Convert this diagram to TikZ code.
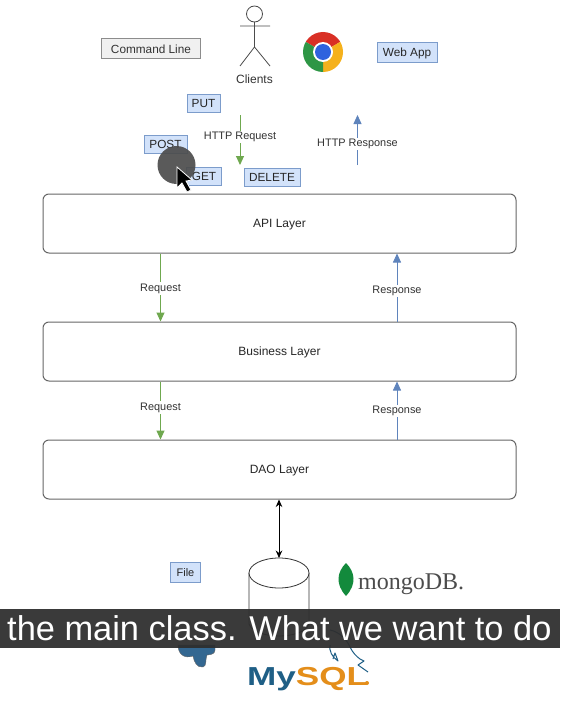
\documentclass[tikz,border=0pt]{standalone}
\usepackage{fontspec}
\setmainfont{Liberation Sans}
\newfontfamily\serifface{Liberation Serif}
\usetikzlibrary{arrows.meta,shapes.geometric}
\definecolor{tagfill}{HTML}{D2E2FA}
\definecolor{tagline}{HTML}{7C9CCB}
\definecolor{greenline}{HTML}{6FA84F}
\definecolor{blueline}{HTML}{5F84BC}
\definecolor{mysqlblue}{HTML}{1F5F86}
\definecolor{mysqlorange}{HTML}{E48E1A}
\definecolor{chromered}{HTML}{D93025}
\definecolor{chromeyellow}{HTML}{F5B11C}
\definecolor{chromegreen}{HTML}{2E9645}
\definecolor{chromeblue}{HTML}{2F62DE}
\definecolor{leaf}{HTML}{138A3C}
\definecolor{elephant}{HTML}{336791}
\tikzset{
  x=1pt,y=-1pt,
  txt/.style={font=\fontsize{12}{14}\selectfont,text=black!80},
  tag/.style={draw=tagline,fill=tagfill,line width=1pt,inner sep=0pt,font=\fontsize{11.8}{14}\selectfont,text=black!85},
  layer/.style={draw=black!60,fill=white,rounded corners=6pt,line width=1pt,minimum width=473pt,minimum height=59pt,inner sep=0pt,text height=11pt,text depth=2.5pt,font=\fontsize{12}{14}\selectfont,text=black!85},
  reqarrow/.style={draw=greenline,line width=1pt,-{Triangle[length=9pt,width=8pt]}},
  resarrow/.style={draw=blueline,line width=.8pt,-{Triangle[length=9pt,width=8pt]}},
  lbl/.style={fill=white,inner sep=1.5pt,font=\fontsize{10.9}{13}\selectfont,text=black!80},
  figline/.style={draw=black!70,line width=.8pt},
}
\begin{document}
\begin{tikzpicture}
\useasboundingbox (0,0) rectangle (560,701);
\fill[white] (0,0) rectangle (560,701);
% stick figure
\draw[figline] (254.5,14) circle[radius=8];
\draw[figline] (254.5,22) -- (254.5,47) (240,26) -- (270,26) (240,66) -- (254.5,47) -- (270,66);
\node[txt] (clients) at (254.5,79) {Clients};
% tags
\node[draw=black!45,fill=black!6,line width=1pt,inner sep=0pt,minimum width=99pt,minimum height=20pt,font=\fontsize{11.8}{14}\selectfont,text=black!80] (cmd) at (151,49) {Command Line};
\node[tag,minimum width=60pt,minimum height=20pt] (web) at (407,53) {Web App};
\node[tag,minimum width=33pt,minimum height=18pt] (put) at (203.5,103) {PUT};
\node[tag,minimum width=43pt,minimum height=18pt] (post) at (165.5,144) {POST};
\node[tag,minimum width=35pt,minimum height=18pt] (get) at (204,176) {GET};
\node[tag,minimum width=56pt,minimum height=18pt] (delete) at (272,177.5) {DELETE};
\node[tag,minimum width=30pt,minimum height=20pt,font=\fontsize{11}{13}\selectfont] (file) at (185.5,572.5) {File};
% chrome logo
\begin{scope}[shift={(323,52)}]
  \begin{scope}
    \clip (0,0) circle[radius=20];
    \fill[chromered] (0,0) -- (-34,-20) -- (-34,-40) -- (34,-40) -- (34,-20) -- cycle;
    \fill[chromeyellow] (0,0) -- (34,-20) -- (40,40) -- (0,40) -- cycle;
    \fill[chromegreen] (0,0) -- (0,40) -- (-40,40) -- (-34,-20) -- cycle;
  \end{scope}
  \fill[white] (0,0) circle[radius=10];
  \fill[chromeblue] (0,0) circle[radius=8];
\end{scope}
% layers
\node[layer] (api) at (279.5,223.5) {API Layer};
\node[layer] (biz) at (279.5,351.5) {Business Layer};
\node[layer] (dao) at (279.5,469.5) {DAO Layer};
% http arrows
\coordinate (reqs) at (240,115);
\coordinate (reqe) at (240,165);
\coordinate (ress) at (357.5,165);
\coordinate (rese) at (357.5,115);
\draw[reqarrow] (reqs) -- (reqe) node[lbl,pos=.44] (httpreq) {HTTP Request};
\draw[resarrow] (ress) -- (rese) node[lbl,pos=.42] (httpres) {HTTP Response};
% layer arrows
\draw[reqarrow] (api.south -| 160.5,0) -- node[lbl,pos=.52] (r1) {Request} (biz.north -| 160.5,0);
\draw[resarrow] (biz.north -| 397,0) -- node[lbl,pos=.45] (s1) {Response} (api.south -| 397,0);
\draw[reqarrow] (biz.south -| 160.5,0) -- node[lbl,pos=.45] (r2) {Request} (dao.north -| 160.5,0);
\draw[resarrow] (dao.north -| 397,0) -- node[lbl,pos=.49] (s2) {Response} (biz.south -| 397,0);
% cylinder
\draw[figline,black!80] (249,573) -- (249,624) .. controls (255,640) and (303,640) .. (309,624) -- (309,573);
\draw[figline,black!80,fill=white] (279,573) ellipse[x radius=30,y radius=15];
\coordinate (dbtop) at (279,558);
\draw[black,line width=.8pt,{Stealth[length=7.5pt,width=6.5pt]}-{Stealth[length=7.5pt,width=6.5pt]}] (dao.south -| 279,0) -- (dbtop);
% mongodb
\fill[leaf] (346,563) .. controls (337,572) and (335,584) .. (346,596) .. controls (357,584) and (355,572) .. (346,563) -- cycle;
\node[anchor=base west,inner sep=0pt,font=\serifface\fontsize{24}{26}\selectfont,text=black!70] (mongo) at (358,589) {mongoDB.};
% postgres elephant remnant
\fill[elephant,draw=black!60,line width=.4pt] (178,645) .. controls (178,654) and (184,659) .. (193,656) .. controls (194,662) and (197,668) .. (203,667) .. controls (207,666) and (205,660) .. (207,655) .. controls (212,655) and (215,653) .. (215,650) -- (215,645) -- cycle;
% dolphin
\draw[mysqlblue,line width=1pt,line join=round] (330,630) .. controls (340,632) and (347,640) .. (350,647) .. controls (353,653) and (356,656) .. (360,659) -- (364,661) -- (358,665) -- (368,672);
\draw[mysqlblue,line width=1pt,line join=round] (330,645) .. controls (329,651) and (332,657) .. (338,661) -- (335,653) -- (333,659);
% mysql
\node[anchor=base west,inner sep=0pt] (mysql) at (247,685) {\scalebox{1.35}[1]{\bfseries\fontsize{26}{28}\selectfont\textcolor{mysqlblue}{My}\textcolor{mysqlorange}{SQL}}};
\fill[mysqlorange] (367,683) circle[radius=2];
% caption band
\fill[black!82,opacity=.94] (0,609) rectangle (560,648);
\node[anchor=west,inner sep=0pt,text=white,font=\fontsize{34.4}{38}\selectfont] (caption) at (7,628) {the main class. What we want to do};
% cursor highlight
\fill[black!70,opacity=.92] (176.5,165) circle[radius=19];
\fill[black,draw=white,line width=.8pt] (177,167) -- (177,188) -- (182,183) -- (187,192) -- (191,190) -- (186,181) -- (192,180) -- cycle;
\end{tikzpicture}
\end{document}
